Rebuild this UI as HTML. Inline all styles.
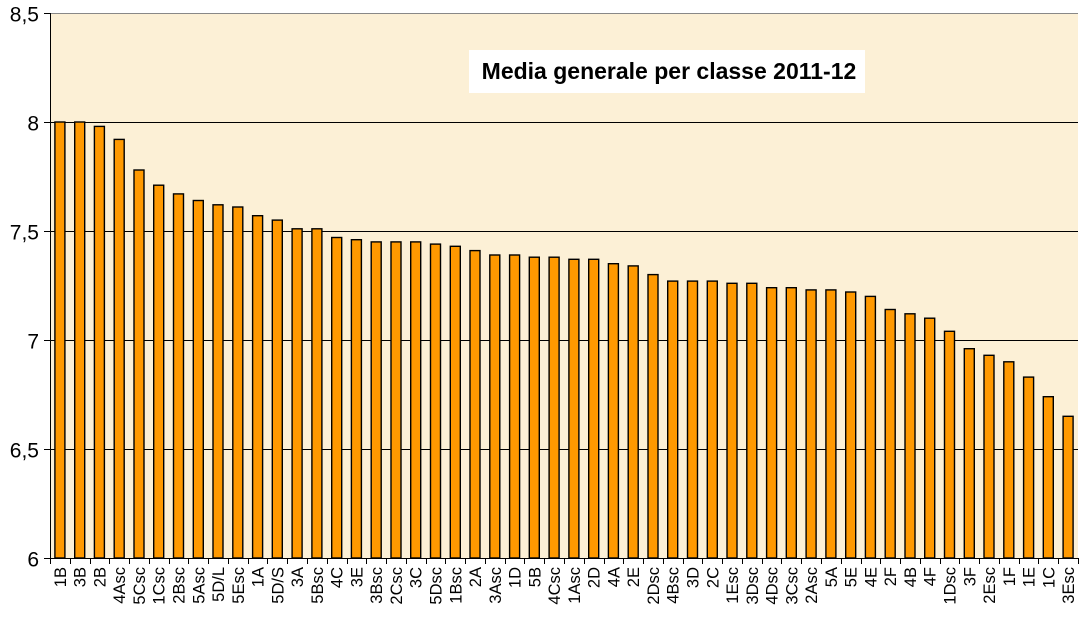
<!DOCTYPE html>
<html><head><meta charset="utf-8"><style>
body{margin:0;background:#fff;}
svg text{font-family:"Liberation Sans",Arial,sans-serif;}
</style></head><body>
<svg id="s" width="1085" height="618" xmlns="http://www.w3.org/2000/svg">
<rect x="0" y="0" width="1085" height="618" fill="#fff"/>
<rect x="50" y="13" width="1028" height="545" fill="#fcf0d6"/>
<line x1="50" y1="13.5" x2="1078" y2="13.5" stroke="#888" stroke-width="1"/>
<g id="g"></g>
<rect x="469" y="50" width="396" height="43" fill="#fff"/>
<text x="669" y="79" font-size="23" font-weight="bold" text-anchor="middle" fill="#000">Media generale per classe 2011-12</text>
</svg>
<script>
const L="1B 3B 2B 4Asc 5Csc 1Csc 2Bsc 5Asc 5D/L 5Esc 1A 5D/S 3A 5Bsc 4C 3E 3Bsc 2Csc 3C 5Dsc 1Bsc 2A 3Asc 1D 5B 4Csc 1Asc 2D 4A 2E 2Dsc 4Bsc 3D 2C 1Esc 3Dsc 4Dsc 3Csc 2Asc 5A 5E 4E 2F 4B 4F 1Dsc 3F 2Esc 1F 1E 1C 3Esc".split(" ");
const V=[8.00,8.00,7.98,7.92,7.78,7.71,7.67,7.64,7.62,7.61,7.57,7.55,7.51,7.51,7.47,7.46,7.45,7.45,7.45,7.44,7.43,7.41,7.39,7.39,7.38,7.38,7.37,7.37,7.35,7.34,7.30,7.27,7.27,7.27,7.26,7.26,7.24,7.24,7.23,7.23,7.22,7.20,7.14,7.12,7.10,7.04,6.96,6.93,6.90,6.83,6.74,6.65];
const y=v=>558-(v-6)*218;
let h="";
[6,6.5,7,7.5,8,8.5].forEach(v=>{const yy=Math.round(y(v))+0.5;
 if(v>6&&v<8.5)h+=`<line x1="50" y1="${yy}" x2="1078" y2="${yy}" stroke="#000"/>`;
 h+=`<line x1="44" y1="${yy}" x2="50" y2="${yy}" stroke="#000"/>`;
 h+=`<text x="39" y="${yy+8}" font-size="21" text-anchor="end">${String(v).replace('.',',')}</text>`;});
const st=1028/52;
L.forEach((l,i)=>{const c=50+st*(i+0.5);const t=y(V[i]);
 h+=`<rect x="${(c-5).toFixed(1)}" y="${t.toFixed(1)}" width="10" height="${(558-t).toFixed(1)}" fill="#ff9900" stroke="#000" stroke-width="1.4"/>`;
 const tx=Math.round(50+st*(i+1))+0.5;h+=`<line x1="${tx}" y1="558" x2="${tx}" y2="564" stroke="#000"/>`;
 h+=`<text transform="translate(${(c+6).toFixed(1)},567) rotate(-90)" font-size="16.5" text-anchor="end">${l}</text>`;});
h+=`<line x1="50.5" y1="13" x2="50.5" y2="559" stroke="#000"/><line x1="50" y1="558.5" x2="1078" y2="558.5" stroke="#000"/><line x1="50.5" y1="558" x2="50.5" y2="564" stroke="#000"/>`;
document.getElementById("g").innerHTML=h;
</script>
</body></html>
